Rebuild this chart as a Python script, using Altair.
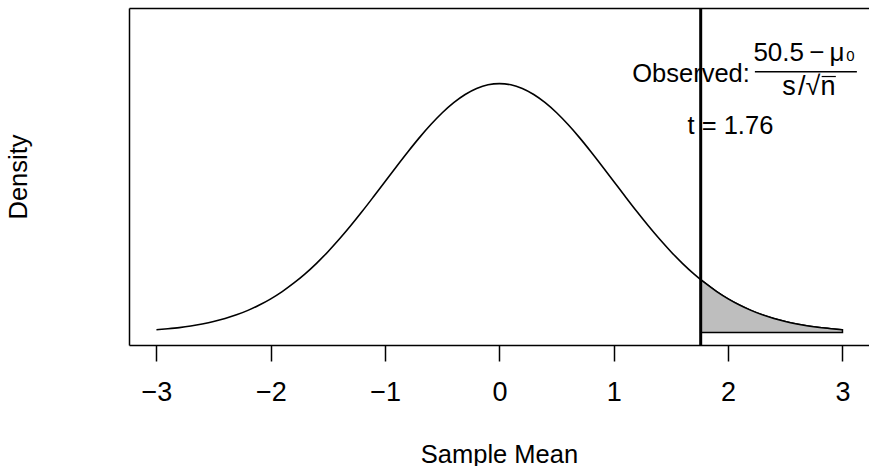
import altair as alt
import pandas as pd

# Standard normal density read on a 0.1 grid from -3 to 3
curve_x = [-3.0, -2.9, -2.8, -2.7, -2.6, -2.5, -2.4, -2.3, -2.2, -2.1,
           -2.0, -1.9, -1.8, -1.7, -1.6, -1.5, -1.4, -1.3, -1.2, -1.1,
           -1.0, -0.9, -0.8, -0.7, -0.6, -0.5, -0.4, -0.3, -0.2, -0.1,
           0.0, 0.1, 0.2, 0.3, 0.4, 0.5, 0.6, 0.7, 0.8, 0.9,
           1.0, 1.1, 1.2, 1.3, 1.4, 1.5, 1.6, 1.7, 1.8, 1.9,
           2.0, 2.1, 2.2, 2.3, 2.4, 2.5, 2.6, 2.7, 2.8, 2.9, 3.0]
curve_y = [0.0044, 0.0060, 0.0079, 0.0104, 0.0136, 0.0175, 0.0224, 0.0283, 0.0355, 0.0440,
           0.0540, 0.0656, 0.0790, 0.0940, 0.1109, 0.1295, 0.1497, 0.1714, 0.1942, 0.2179,
           0.2420, 0.2661, 0.2897, 0.3123, 0.3332, 0.3521, 0.3683, 0.3814, 0.3910, 0.3970,
           0.3989, 0.3970, 0.3910, 0.3814, 0.3683, 0.3521, 0.3332, 0.3123, 0.2897, 0.2661,
           0.2420, 0.2179, 0.1942, 0.1714, 0.1497, 0.1295, 0.1109, 0.0940, 0.0790, 0.0656,
           0.0540, 0.0440, 0.0355, 0.0283, 0.0224, 0.0175, 0.0136, 0.0104, 0.0079, 0.0060, 0.0044]

# Upper tail beyond the observed statistic
t_obs = 1.76
tail_x = [1.76, 1.8, 1.9, 2.0, 2.1, 2.2, 2.3, 2.4, 2.5, 2.6, 2.7, 2.8, 2.9, 3.0]
tail_y = [0.0848, 0.0790, 0.0656, 0.0540, 0.0440, 0.0355, 0.0283, 0.0224, 0.0175, 0.0136,
          0.0104, 0.0079, 0.0060, 0.0044]

x_ticks = [-3, -2, -1, 0, 1, 2, 3]

# Annotation pieces (data coordinates)
obs_label = ["Observed:"]
obs_pos = [2.19, 0.402]
num_label = ["50.5\u2009\u2212\u2009\u03bc"]
num_pos = [2.2208, 0.4356]
sub_label = ["0"]
sub_pos = [3.034, 0.4356]
bar_pos = [2.234, 3.126, 0.4179]
den_label = ["s\u200a/\u221an"]
den_pos = [2.706, 0.3806]
root_bar = [2.818, 2.942, 0.4102]
t_label = ["t = 1.76"]
t_pos = [2.02, 0.3176]

FONT = "Liberation Sans"
FS = 25.5
FS_TICK = 27
FS_NUM = 26
FS_DEN = 27

xs = alt.Scale(domain=[-3.24, 3.232], nice=False, zero=False)
ys = alt.Scale(domain=[-0.02, 0.52], nice=False, zero=False)

curve_df = pd.DataFrame({"x": curve_x, "density": curve_y})
tail_df = pd.DataFrame({"x": tail_x, "density": tail_y})

curve = alt.Chart(curve_df).mark_line(
    color="black", strokeWidth=1.6, interpolate="monotone"
).encode(
    x=alt.X("x:Q", scale=xs, axis=alt.Axis(
        values=x_ticks, title="Sample Mean", grid=False,
        domain=True, domainColor="black", domainWidth=1.5,
        ticks=True, tickSize=16, tickWidth=1.5, tickColor="black",
        labelFont=FONT, labelFontSize=FS_TICK, labelColor="black", labelPadding=18,
        labelFlush=False, labelOverlap=False,
        titleFont=FONT, titleFontSize=FS, titleFontWeight="normal", titleColor="black",
        titleBaseline="alphabetic", titleY=117)),
    y=alt.Y("density:Q", scale=ys, axis=alt.Axis(
        title="Density", grid=False, labels=False, ticks=False,
        domain=True, domainColor="black", domainWidth=1.5,
        titleFont=FONT, titleFontSize=FS, titleFontWeight="normal", titleColor="black",
        titleBaseline="alphabetic", titleX=-103)),
)

tail = alt.Chart(tail_df).mark_area(
    fill="#BEBEBE", stroke="black", strokeWidth=1.5, interpolate="monotone"
).encode(
    x=alt.X("x:Q", scale=xs, axis=None),
    y=alt.Y("density:Q", scale=ys, axis=None),
    y2=alt.datum(0),
)


def label(text, pos, align, size=FS):
    df = pd.DataFrame({"x": [pos[0]], "y": [pos[1]], "label": text})
    return alt.Chart(df).mark_text(
        font=FONT, fontSize=size, color="black", align=align, baseline="alphabetic"
    ).encode(
        x=alt.X("x:Q", scale=xs, axis=None),
        y=alt.Y("y:Q", scale=ys, axis=None),
        text="label:N",
    )


def hbar(pos, width=1.5):
    df = pd.DataFrame({"x": [pos[0]], "x2": [pos[1]], "y": [pos[2]]})
    return alt.Chart(df).mark_rule(color="black", strokeWidth=width).encode(
        x=alt.X("x:Q", scale=xs, axis=None),
        x2="x2:Q",
        y=alt.Y("y:Q", scale=ys, axis=None),
    )


texts = [
    label(obs_label, obs_pos, "right"),
    label(num_label, num_pos, "left", size=FS_NUM),
    label(sub_label, sub_pos, "left", size=15),
    label(den_label, den_pos, "center", size=FS_DEN),
    label(t_label, t_pos, "center"),
    hbar(bar_pos),
    hbar(root_bar, width=1.2),
]

# Observed statistic; its axis draws the upper frame edge
vline = alt.Chart(pd.DataFrame({"x": [t_obs]})).mark_rule(
    color="black", strokeWidth=3
).encode(
    x=alt.X("x:Q", scale=xs, axis=alt.Axis(
        orient="top", labels=False, ticks=False, grid=False, title=None,
        domain=True, domainColor="black", domainWidth=1.5)),
)

chart = alt.layer(curve, tail, *texts, vline).resolve_axis(
    x="independent", y="independent"
).properties(
    width=740, height=337,
    autosize=alt.AutoSizeParams(type="none"),
    padding={"left": 129, "top": 8, "right": 0, "bottom": 121},
    background="white",
).configure_view(stroke=None)

chart.save("out.html", embed_options={"renderer": "svg", "actions": False})
